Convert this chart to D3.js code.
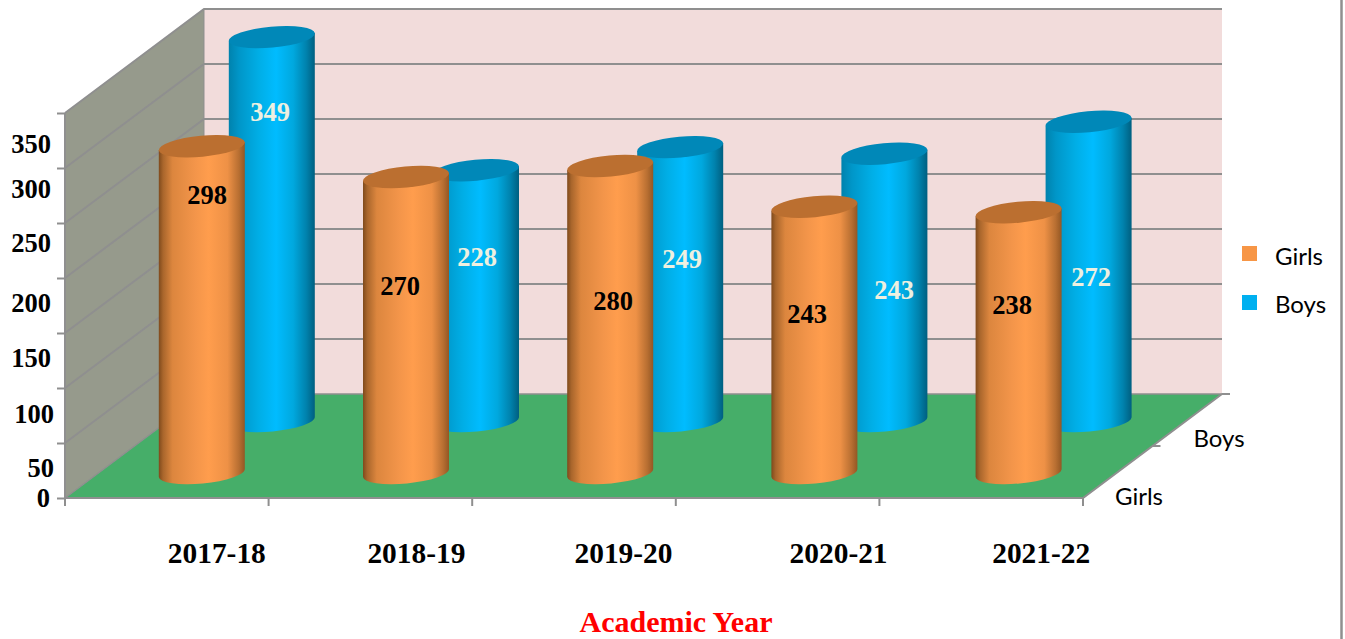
<!DOCTYPE html>
<html><head><meta charset="utf-8">
<style>html,body{margin:0;padding:0;background:#fff;overflow:hidden}svg{display:block}</style>
<script src="https://cdn.jsdelivr.net/npm/d3@7/dist/d3.min.js"></script>
</head><body>
<svg id="c" width="1345" height="639"></svg>
<script>
const categories = ["2017-18","2018-19","2019-20","2020-21","2021-22"];
const seriesNames = ["Girls","Boys"];
const girls = [298,270,280,243,238];
const boys = [349,228,249,243,272];
const yTicks = [0,50,100,150,200,250,300,350];

// layout only
const W=1345,H=639;
const frontLeft=65,frontRight=1083,floorY=498,topY=113;
const depthX=139,depthY=-104;
const yLabelShift=[-1,24,25,24,24,19,20,30];
const yLabelX=[-15,-11,-11,-14,-14,-14,-14,-14];
const xLabelShift=[50,46,49.5,61,60];
const girlsLabelAt=[[207,195],[400,286],[613,301],[807,314],[1012,305]];
const boysLabelAt=[[270,112],[477,257],[682,259],[894,290],[1091,277]];

const svg=d3.select("#c");
const y=d3.scaleLinear().domain([0,350]).range([floorY,topY]);
const x=d3.scaleBand().domain(categories).range([frontLeft,frontRight]);
const xBars=d3.scaleBand().domain(categories).range([frontLeft,frontRight+3]);
const serif="'Liberation Serif',serif", sans="Lato,'Open Sans',sans-serif";
const gridC="#8f8f8f";

const defs=svg.append("defs");
function grad(id,stops){
  const g=defs.append("linearGradient").attr("id",id).attr("x1","0").attr("x2","1").attr("y1","0").attr("y2","0");
  stops.forEach(([o,c])=>g.append("stop").attr("offset",o).attr("stop-color",c));
}
grad("gGirls",[[0,"#7f4a1c"],[0.05,"#a9662c"],[0.16,"#dc863e"],[0.42,"#f3954a"],[0.58,"#ff9d4d"],[0.8,"#ee9146"],[0.93,"#b86f32"],[1,"#935724"]]);
grad("gBoys",[[0,"#0082ad"],[0.12,"#0096c8"],[0.35,"#00aee6"],[0.55,"#00bcff"],[0.75,"#00a8de"],[0.9,"#0082ad"],[1,"#005f80"]]);

// walls
const line=d3.line();
svg.append("path").attr("d",line([[frontLeft,floorY],[frontLeft,topY],[frontLeft+depthX,topY+depthY],[frontLeft+depthX,floorY+depthY]])+"Z").attr("fill","#969a8c");
svg.append("rect").attr("x",frontLeft+depthX).attr("y",topY+depthY).attr("width",frontRight-frontLeft).attr("height",floorY-topY).attr("fill","#f2dcdb");
svg.append("path").attr("d",line([[frontLeft,floorY],[frontLeft+depthX,floorY+depthY],[frontRight+depthX,floorY+depthY],[frontRight,floorY]])+"Z").attr("fill","#46ae69");

// gridlines
yTicks.forEach(t=>{
  const yy=y(t);
  svg.append("path").attr("fill","none").attr("stroke",gridC).attr("stroke-width",t===0?1.5:2)
    .attr("d",line([[frontLeft,yy],[frontLeft+depthX,yy+depthY],[frontRight+depthX,yy+depthY]]));
});
// axes frame
const frame=svg.append("g").attr("fill","none").attr("stroke",gridC).attr("stroke-width",2);
frame.append("path").attr("d",line([[frontLeft,topY],[frontLeft,floorY],[frontRight,floorY],[frontRight+depthX,floorY+depthY]]));
frame.append("path").attr("d",line([[frontLeft+depthX,topY+depthY],[frontLeft+depthX,floorY+depthY]])).attr("stroke-width",1);

// y axis
const yAxis=svg.append("g").attr("transform",`translate(${frontLeft},0)`)
  .call(d3.axisLeft(y).tickValues(yTicks).tickSize(8).tickFormat(d3.format("d")));
yAxis.select(".domain").remove();
yAxis.selectAll("line").attr("stroke",gridC).attr("stroke-width",2);
yAxis.selectAll("text").attr("font-family",serif).attr("font-weight","bold").attr("font-size",26.5).attr("fill","#000")
  .attr("x",(d,i)=>yLabelX[i]).attr("dy","0.34em")
  .attr("transform",(d,i)=>`translate(0,${yLabelShift[i]})`);

// x axis ticks
const boundaries=d3.range(categories.length+1).map(i=>frontLeft+i*x.bandwidth());
svg.append("g").selectAll("line").data(boundaries).join("line")
  .attr("x1",d=>d).attr("x2",d=>d).attr("y1",floorY).attr("y2",floorY+8).attr("stroke",gridC).attr("stroke-width",2);
const xCenter=c=>x(c)+x.bandwidth()/2;
const barCenter=c=>xBars(c)+xBars.bandwidth()/2;
svg.append("g").selectAll("text").data(categories).join("text")
  .attr("x",(d,i)=>xCenter(d)+xLabelShift[i]).attr("y",553).attr("dy","0.34em").attr("text-anchor","middle")
  .attr("font-family",serif).attr("font-weight","bold").attr("font-size",29.4).attr("fill","#000").text(d=>d);

// depth axis ticks and labels
[[frontRight+depthX/2,floorY+depthY/2],[frontRight+depthX,floorY+depthY]].forEach(([a,b])=>{
  svg.append("line").attr("x1",a).attr("x2",a+8).attr("y1",b).attr("y2",b).attr("stroke",gridC).attr("stroke-width",2);
});
svg.append("g").selectAll("text").data([["Girls",1139,497],["Boys",1219,439]]).join("text")
  .attr("x",d=>d[1]).attr("y",d=>d[2]).attr("dy","0.35em").attr("text-anchor","middle")
  .attr("font-family",sans).attr("font-size",24).attr("fill","#000").text(d=>d[0]);

// cylinders
const rx=43,tilt=4,ry=10.5;
const angle=-Math.atan2(tilt,rx)*180/Math.PI;
const R=Math.hypot(rx,tilt);
function cylinder(g,cx,yb,yt,grad,topC){
  const side=`M${cx-rx},${yt+tilt}L${cx-rx},${yb+tilt}A${R},${ry},${angle},0,0,${cx+rx},${yb-tilt}L${cx+rx},${yt-tilt}Z`;
  g.append("path").attr("d",side).attr("fill",`url(#${grad})`);
  g.append("ellipse").attr("cx",0).attr("cy",0).attr("rx",R).attr("ry",ry).attr("fill",topC)
    .attr("transform",`translate(${cx},${yt}) rotate(${angle})`);
}
const girlsDepth={dx:35,base:24,bottom:25}, boysDepth={dx:105,base:77,bottom:77};
const boysG=svg.append("g"), girlsG=svg.append("g");
categories.forEach((c,i)=>{
  cylinder(boysG,barCenter(c)+boysDepth.dx-0.3,floorY-boysDepth.bottom,y(boys[i])-boysDepth.base,"gBoys","#0088b8");
});
categories.forEach((c,i)=>{
  cylinder(girlsG,barCenter(c)+girlsDepth.dx-0.3,floorY-girlsDepth.bottom,y(girls[i])-girlsDepth.base,"gGirls","#bb6f30");
});

// value labels
function vals(arr,pos,col){
  svg.append("g").selectAll("text").data(arr).join("text")
    .attr("x",(d,i)=>pos[i][0]).attr("y",(d,i)=>pos[i][1]).attr("dy","0.34em").attr("text-anchor","middle")
    .attr("font-family",serif).attr("font-weight","bold").attr("font-size",26.5).attr("fill",col).text(d=>d);
}
vals(girls,girlsLabelAt,"#000");
vals(boys,boysLabelAt,"#eef0e0");

// legend
const legend=svg.append("g");
const lc=d3.scaleOrdinal().domain(seriesNames).range(["#f79646","#00b0f0"]);
[["Girls",246,257],["Boys",295,305]].forEach(([n,ys,yt])=>{
  legend.append("rect").attr("x",1242).attr("y",ys).attr("width",15).attr("height",15).attr("fill",lc(n));
  legend.append("text").attr("x",1275).attr("y",yt).attr("dy","0.35em").attr("font-family",sans).attr("font-size",24).attr("fill","#000").text(n);
});

// title
svg.append("text").attr("x",676).attr("y",622).attr("dy","0.34em").attr("text-anchor","middle")
  .attr("font-family",serif).attr("font-weight","bold").attr("font-size",30).attr("fill","#ff0000").text("Academic Year");

// page border at the right
svg.append("line").attr("x1",1341.5).attr("x2",1341.5).attr("y1",0).attr("y2",H).attr("stroke","#8f8f8f").attr("stroke-width",2.5);
</script>
</body></html>
